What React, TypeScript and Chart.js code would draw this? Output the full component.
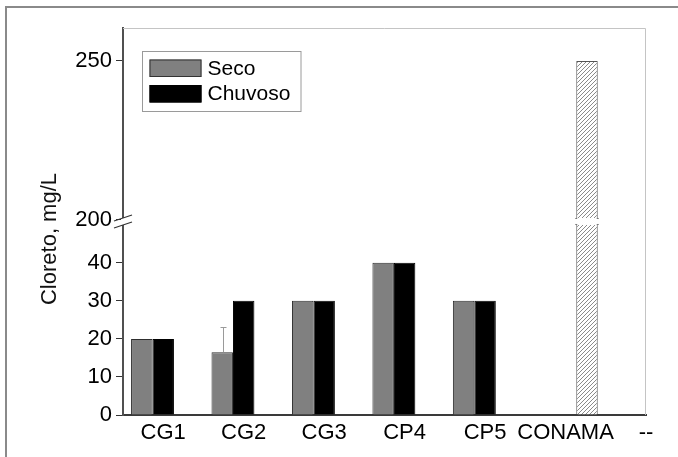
import React, { useEffect, useRef } from 'react';
import { Chart, registerables, LinearScale } from 'chart.js';

Chart.register(...registerables);

// ---------- data ----------
const CATEGORIES = ['CG1', 'CG2', 'CG3', 'CP4', 'CP5', 'CONAMA', '--'];
const SECO = [20, 16.5, 30, 40, 30];
const SECO_ERR = [0, 6.5, 0, 0, 0];
const CHUVOSO = [20, 30, 30, 40, 30];
const CONAMA_LIMIT: (number | null)[] = [null, null, null, null, null, 250];
const Y_TICKS = [0, 10, 20, 30, 40, 200, 250];
const SERIES_LABELS = ['Seco', 'Chuvoso', 'CONAMA'];
const Y_TITLE = 'Cloreto, mg/L';

// ---------- broken axis geometry (scale units) ----------
const BREAK_VALUE = 200;
const LOW_LIMIT = 50;
const BREAK_UNIT = 51.25;
const UPPER_RATIO = 0.8356;
const AXIS_MAX_UNIT = 101.7;

function toAxis(v: number) {
  return v <= LOW_LIMIT ? v : BREAK_UNIT + (v - BREAK_VALUE) * UPPER_RATIO;
}
function fromAxis(u: number) {
  return u <= BREAK_UNIT ? u : BREAK_VALUE + (u - BREAK_UNIT) / UPPER_RATIO;
}

class BrokenScale extends LinearScale {
  static id = 'broken';
  static defaults = { ticks: { callback: (v: number) => String(v) } };
  buildTicks() {
    super.buildTicks();
    return Y_TICKS.map((v) => ({ value: v }));
  }
  getPixelForValue(value: number) {
    return super.getPixelForValue(toAxis(value));
  }
  getValueForPixel(pixel: number) {
    return fromAxis(super.getValueForPixel(pixel));
  }
}
Chart.register(BrokenScale as any);

const FONT = 'Liberation Sans, Arial, sans-serif';
const SECO_COLOR = '#808080';
const CHUVOSO_COLOR = '#000000';

function makeHatch(): CanvasPattern | string {
  const c = document.createElement('canvas');
  const s = 4;
  c.width = s;
  c.height = s;
  const g = c.getContext('2d');
  if (!g) return '#ddd';
  g.fillStyle = '#ffffff';
  g.fillRect(0, 0, s, s);
  g.strokeStyle = '#8a8a8a';
  g.lineWidth = 1;
  for (const k of [-s, 0, s]) {
    g.beginPath();
    g.moveTo(k, s);
    g.lineTo(k + s, 0);
    g.stroke();
  }
  return g.createPattern(c, 'repeat') || '#ddd';
}

const decorPlugin = {
  id: 'decor',
  beforeDraw(chart: any) {
    const { ctx, width, height } = chart;
    ctx.save();
    ctx.fillStyle = '#ffffff';
    ctx.fillRect(0, 0, width, height);
    ctx.fillStyle = '#8a8a8a';
    ctx.fillRect(5, 6, 2, height - 6);
    ctx.fillRect(5, 6, width - 5, 2);
    ctx.restore();
  },
  afterDatasetsDraw(chart: any) {
    const { ctx, chartArea, scales } = chart;
    const y = scales.y;
    ctx.save();
    // plot frame top/right
    ctx.strokeStyle = '#c4c4c4';
    ctx.lineWidth = 1;
    ctx.beginPath();
    ctx.moveTo(chartArea.left, chartArea.top + 0.5);
    ctx.lineTo(chartArea.right - 0.5, chartArea.top + 0.5);
    ctx.lineTo(chartArea.right - 0.5, chartArea.bottom);
    ctx.stroke();

    // error bars
    const meta = chart.getDatasetMeta(0);
    ctx.strokeStyle = '#9a9a9a';
    ctx.lineWidth = 1;
    SECO_ERR.forEach((e, i) => {
      if (!e) return;
      const el = meta.data[i];
      if (!el) return;
      const x = Math.round(el.x) + 1.5;
      const yTop = Math.round(y.getPixelForValue(SECO[i] + e)) + 0.5;
      ctx.beginPath();
      ctx.moveTo(x, el.y);
      ctx.lineTo(x, yTop);
      ctx.moveTo(x - 3, yTop);
      ctx.lineTo(x + 3, yTop);
      ctx.stroke();
    });

    // break gap in bars crossing the break
    const yb = y.getPixelForValue(BREAK_VALUE);
    chart.data.datasets.forEach((ds: any, di: number) => {
      const m = chart.getDatasetMeta(di);
      m.data.forEach((el: any, i: number) => {
        const raw = ds.data[i];
        if (!raw || raw.y < BREAK_VALUE) return;
        ctx.fillStyle = '#ffffff';
        ctx.fillRect(el.x - el.width / 2 - 1, yb - 2, el.width + 2, 7);
        ctx.fillStyle = '#777';
        ctx.fillRect(el.x - el.width / 2 - 1, yb - 2, 2, 1);
        ctx.fillRect(el.x + el.width / 2 - 1, yb - 2, 2, 1);
        ctx.fillRect(el.x - el.width / 2 - 1, yb + 4, 2, 1);
        ctx.fillRect(el.x + el.width / 2 - 1, yb + 4, 2, 1);
      });
    });
    ctx.restore();
  },
  afterDraw(chart: any) {
    const { ctx, chartArea, scales } = chart;
    const y = scales.y;
    const yb = y.getPixelForValue(BREAK_VALUE);
    const ax = chartArea.left;
    ctx.save();
    // axis gap + slashes
    ctx.fillStyle = '#ffffff';
    ctx.fillRect(ax - 2, yb - 2, 5, 7);
    ctx.strokeStyle = '#333';
    ctx.lineWidth = 1.2;
    for (const cy of [yb - 2, yb + 5]) {
      ctx.beginPath();
      ctx.moveTo(ax - 9, cy + 3);
      ctx.lineTo(ax + 9, cy - 3);
      ctx.stroke();
    }

    // legend
    const lx = chartArea.left + 19.5;
    const ly = chartArea.top + 23.5;
    ctx.strokeStyle = '#9a9a9a';
    ctx.lineWidth = 1;
    ctx.strokeRect(lx, ly, 158.5, 60);
    const items = [
      { label: SERIES_LABELS[0], fill: SECO_COLOR, stroke: '#333' },
      { label: SERIES_LABELS[1], fill: CHUVOSO_COLOR, stroke: '#000' },
    ];
    ctx.font = `21px ${FONT}`;
    ctx.textBaseline = 'middle';
    ctx.textAlign = 'left';
    items.forEach((it, i) => {
      const by = ly + 8 + i * 25.5;
      ctx.fillStyle = it.fill;
      ctx.fillRect(lx + 7, by, 52, 17.5);
      ctx.strokeStyle = it.stroke;
      ctx.strokeRect(lx + 7.5, by + 0.5, 51, 16.5);
      ctx.fillStyle = '#000';
      ctx.fillText(it.label, lx + 65, by + 9.5);
    });

    // y title
    ctx.translate(50, 239);
    ctx.rotate(-Math.PI / 2);
    ctx.font = `22px ${FONT}`;
    ctx.textAlign = 'center';
    ctx.textBaseline = 'middle';
    ctx.fillStyle = '#111';
    ctx.fillText(Y_TITLE, 0, 0);
    ctx.restore();
  },
};

export default function App() {
  const ref = useRef<HTMLCanvasElement | null>(null);
  useEffect(() => {
    if (!ref.current) return;
    const hatch = makeHatch();
    const chart = new Chart(ref.current, {
      type: 'bar',
      data: {
        datasets: [
          {
            label: SERIES_LABELS[0],
            data: SECO.map((v, i) => ({ x: i, y: v })),
            backgroundColor: SECO_COLOR,
            borderColor: '#2e2e2e',
            borderWidth: 1,
          },
          {
            label: SERIES_LABELS[1],
            data: CHUVOSO.map((v, i) => ({ x: i, y: v })),
            backgroundColor: CHUVOSO_COLOR,
            borderColor: '#000',
            borderWidth: 1,
          },
          {
            label: SERIES_LABELS[2],
            data: CONAMA_LIMIT.map((v, i) => ({ x: i, y: v })).filter((p) => p.y !== null) as any,
            backgroundColor: hatch as any,
            borderColor: '#555',
            borderWidth: 1,
          },
        ],
      },
      options: {
        responsive: false,
        animation: false,
        events: [],
        layout: { padding: { top: 28, right: 32, left: 0, bottom: 0 } },
        datasets: { bar: { barPercentage: 1.0, categoryPercentage: 0.8, grouped: true } },
        plugins: { legend: { display: false }, tooltip: { enabled: false } },
        scales: {
          x: {
            type: 'linear',
            min: -0.5,
            max: 6,
            offset: false,
            afterBuildTicks: (s: any) => {
              s.ticks = CATEGORIES.map((_, i) => ({ value: i }));
            },
            afterFit: (s: any) => {
              s.height = 42;
            },
            grid: { display: false, drawTicks: false, offset: false },
            border: { display: true, color: '#3a3a3a', width: 2 },
            ticks: {
              autoSkip: false,
              maxRotation: 0,
              padding: 5,
              color: '#000',
              font: { family: FONT, size: 22 },
              callback: (v: any) => CATEGORIES[v as number] ?? '',
            },
          },
          y: {
            type: 'broken' as any,
            min: 0,
            max: AXIS_MAX_UNIT,
            afterFit: (s: any) => {
              s.width = 123;
            },
            grid: {
              display: true,
              drawOnChartArea: false,
              drawTicks: true,
              tickLength: 7,
              tickColor: '#333',
              tickWidth: 1,
            },
            border: { display: true, color: '#505050', width: 2 },
            ticks: {
              autoSkip: false,
              padding: 4,
              color: '#000',
              font: { family: FONT, size: 22 },
              callback: (v: any) => String(v),
            },
          } as any,
        },
      },
      plugins: [decorPlugin],
    });
    return () => chart.destroy();
  }, []);
  return (
    <div style={{ position: 'fixed', left: 0, top: 0, width: 678, height: 457, background: '#fff' }}>
      <canvas ref={ref} width={678} height={457} style={{ width: 678, height: 457, display: 'block' }} />
    </div>
  );
}
